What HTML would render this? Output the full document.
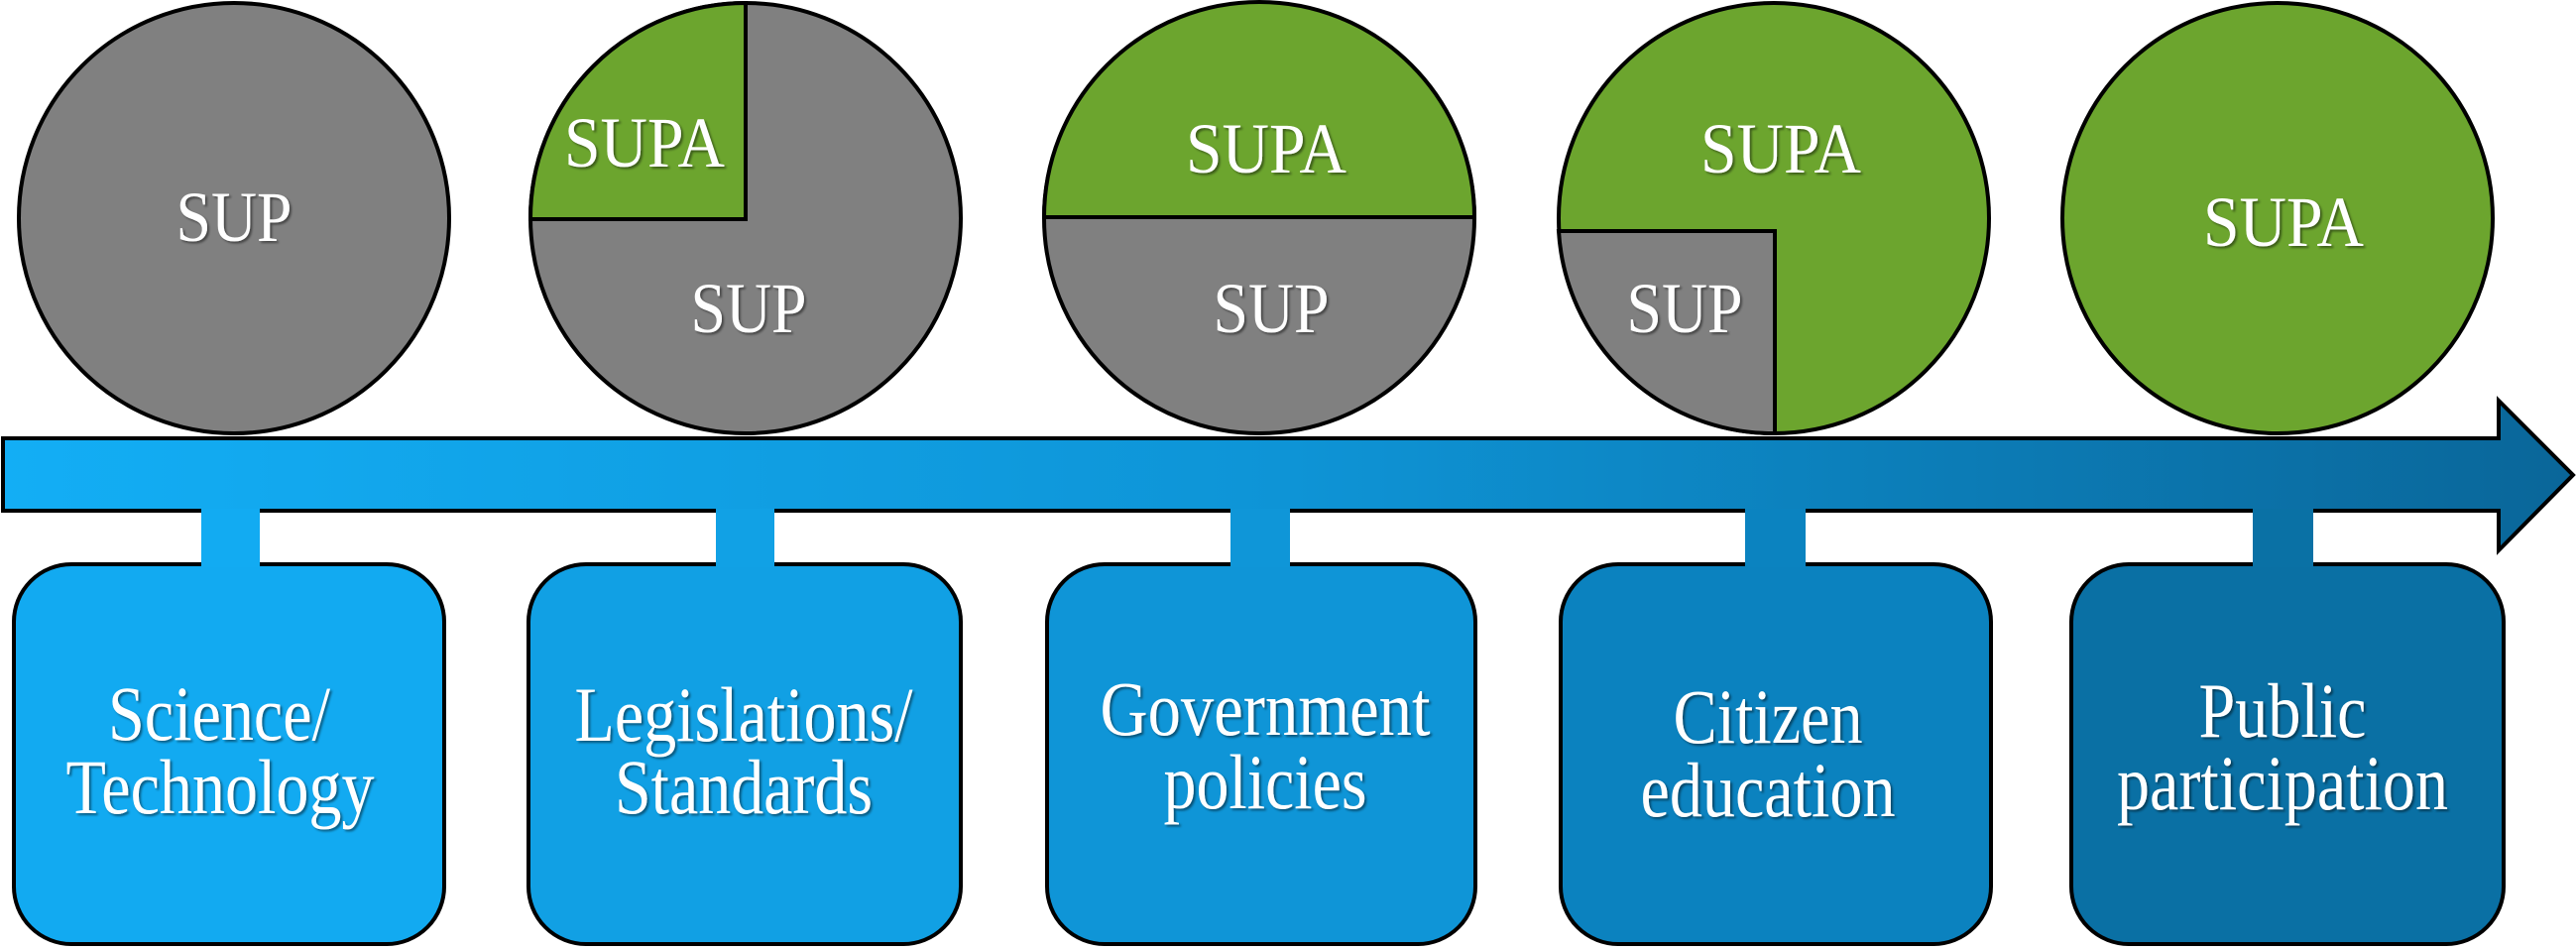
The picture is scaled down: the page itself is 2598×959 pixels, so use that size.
<!DOCTYPE html>
<html><head><meta charset="utf-8"><style>
html,body{margin:0;padding:0;background:#fff;}
svg{display:block;}
text{font-family:"Liberation Serif","DejaVu Serif","Noto Serif CJK SC",serif;}
</style></head><body>
<svg width="2598" height="959" viewBox="0 0 2598 959" xmlns="http://www.w3.org/2000/svg">
<defs>
<linearGradient id="ag" x1="0" y1="0" x2="2598" y2="0" gradientUnits="userSpaceOnUse">
<stop offset="0" stop-color="#13aef5"/>
<stop offset="0.5" stop-color="#0e94d6"/>
<stop offset="1" stop-color="#0a6699"/>
</linearGradient>
<filter id="sh" x="-10%" y="-10%" width="120%" height="130%"><feDropShadow dx="2" dy="2" stdDeviation="1" flood-color="#000" flood-opacity="0.45"/></filter>
</defs>
<g stroke="#000" stroke-width="4">
<circle cx="236" cy="220" r="217" fill="#808080"/>
<circle cx="752" cy="220" r="217" fill="#808080"/>
<path d="M752,221 L752,3 A217,217 0 0 0 535,221 Z" fill="#6ca52e"/>
<circle cx="1270" cy="220" r="217" fill="#808080"/>
<path d="M1053,219 A217,217 0 0 1 1487,219 Z" fill="#6ca52e"/>
<circle cx="1789" cy="220" r="217" fill="#6ca52e"/>
<path d="M1790,233 L1572,233 A217,217 0 0 0 1790,437 Z" fill="#808080"/>
<circle cx="2297" cy="220" r="217" fill="#6ca52e"/>
<path d="M3,442 L2520,442 L2520,404 L2595,479 L2520,555 L2520,515 L3,515 Z" fill="url(#ag)"/>
<rect x="14" y="569" width="434" height="383" rx="58" fill="#12aaf1"/>
<rect x="533" y="569" width="436" height="383" rx="58" fill="#11a0e4"/>
<rect x="1056" y="569" width="432" height="383" rx="58" fill="#0f95d7"/>
<rect x="1574" y="569" width="434" height="383" rx="58" fill="#0b82bf"/>
<rect x="2089" y="569" width="436" height="383" rx="58" fill="#0a70a4"/>
</g>
<rect x="203" y="513" width="59" height="59" fill="#12abf2"/>
<rect x="722" y="513" width="59" height="59" fill="#11a1e5"/>
<rect x="1241" y="513" width="60" height="59" fill="#0f96d8"/>
<rect x="1760" y="513" width="61" height="59" fill="#0b83c0"/>
<rect x="2272" y="513" width="61" height="59" fill="#0a71a5"/>
<g filter="url(#sh)" text-anchor="middle" fill="#fff" font-family="'Liberation Serif','DejaVu Serif','Noto Serif CJK SC',serif">
<g transform="translate(236,243) scale(1,1.12)"><text font-size="64" textLength="117" lengthAdjust="spacingAndGlyphs">SUP</text></g>
<g transform="translate(650,168) scale(1,1.12)"><text font-size="64" textLength="162" lengthAdjust="spacingAndGlyphs">SUPA</text></g>
<g transform="translate(755,335) scale(1,1.12)"><text font-size="64" textLength="117" lengthAdjust="spacingAndGlyphs">SUP</text></g>
<g transform="translate(1277,174) scale(1,1.12)"><text font-size="64" textLength="162" lengthAdjust="spacingAndGlyphs">SUPA</text></g>
<g transform="translate(1282,335) scale(1,1.12)"><text font-size="64" textLength="117" lengthAdjust="spacingAndGlyphs">SUP</text></g>
<g transform="translate(1796,174) scale(1,1.12)"><text font-size="64" textLength="162" lengthAdjust="spacingAndGlyphs">SUPA</text></g>
<g transform="translate(1699,335) scale(1,1.12)"><text font-size="64" textLength="117" lengthAdjust="spacingAndGlyphs">SUP</text></g>
<g transform="translate(2303,248) scale(1,1.12)"><text font-size="64" textLength="162" lengthAdjust="spacingAndGlyphs">SUPA</text></g>

<g transform="translate(221,746) scale(1,1.18)"><text font-size="66" textLength="224" lengthAdjust="spacingAndGlyphs">Science/</text></g>
<g transform="translate(222,820) scale(1,1.18)"><text font-size="66" textLength="311" lengthAdjust="spacingAndGlyphs">Technology</text></g>
<g transform="translate(750,747) scale(1,1.18)"><text font-size="66" textLength="341" lengthAdjust="spacingAndGlyphs">Legislations/</text></g>
<g transform="translate(750,820) scale(1,1.18)"><text font-size="66" textLength="260" lengthAdjust="spacingAndGlyphs">Standards</text></g>
<g transform="translate(1276,741) scale(1,1.18)"><text font-size="66" textLength="333" lengthAdjust="spacingAndGlyphs">Government</text></g>
<g transform="translate(1276,815) scale(1,1.18)"><text font-size="66" textLength="205" lengthAdjust="spacingAndGlyphs">policies</text></g>
<g transform="translate(1783,749) scale(1,1.18)"><text font-size="66" textLength="191" lengthAdjust="spacingAndGlyphs">Citizen</text></g>
<g transform="translate(1783,823) scale(1,1.18)"><text font-size="66" textLength="257" lengthAdjust="spacingAndGlyphs">education</text></g>
<g transform="translate(2302,743) scale(1,1.18)"><text font-size="66" textLength="169" lengthAdjust="spacingAndGlyphs">Public</text></g>
<g transform="translate(2302,816) scale(1,1.18)"><text font-size="66" textLength="334" lengthAdjust="spacingAndGlyphs">participation</text></g>
</g>
</svg>
</body></html>
